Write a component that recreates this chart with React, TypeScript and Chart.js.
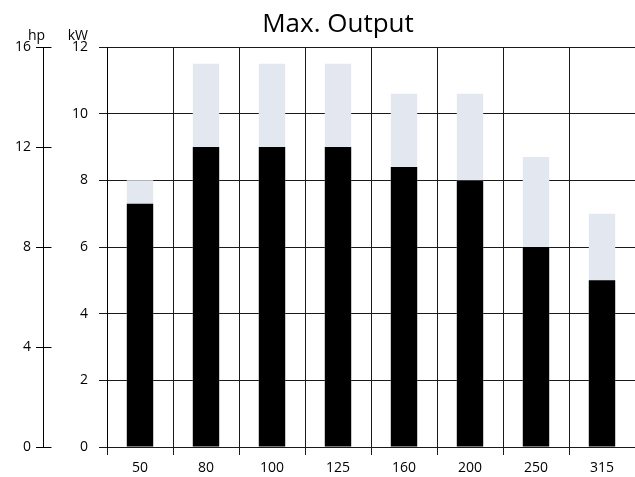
import React, { useEffect, useRef } from "react";
import { Chart, registerables } from "chart.js";

Chart.register(...registerables);

const categories = ["50", "80", "100", "125", "160", "200", "250", "315"];
const outputKw = [7.3, 9, 9, 9, 8.4, 8, 6, 5];
const maxKw = [8, 11.5, 11.5, 11.5, 10.6, 10.6, 8.7, 7];
const kwTicks = [0, 2, 4, 6, 8, 10, 12];
const hpTicks = [0, 4, 8, 12, 16];
const titleText = "Max. Output";
const hpLabel = "hp";
const kwLabel = "kW";

const FONT = "'Open Sans', 'DejaVu Sans', sans-serif";

const overlayPlugin = {
  id: "overlay",
  afterDraw(chart: any) {
    const ctx = chart.ctx;
    const hp = chart.scales.hp;
    const kw = chart.scales.y;
    const area = chart.chartArea;
    ctx.save();
    // right-side half of the hp tick marks
    ctx.strokeStyle = "#000";
    ctx.lineWidth = 1;
    hpTicks.forEach((v) => {
      const y = Math.round(hp.getPixelForValue(v)) + 0.5;
      const x = Math.round(hp.right) + 0.5;
      ctx.beginPath();
      ctx.moveTo(x - 1, y);
      ctx.lineTo(x + 8, y);
      ctx.stroke();
    });
    // axis unit labels
    ctx.fillStyle = "#000";
    ctx.font = `14px ${FONT}`;
    ctx.textBaseline = "alphabetic";
    ctx.textAlign = "left";
    ctx.fillText(hpLabel, hp.right - 15, area.top - 7);
    ctx.textAlign = "right";
    ctx.fillText(kwLabel, kw.right - 19, area.top - 7);
    // title
    ctx.font = `26px ${FONT}`;
    ctx.textAlign = "center";
    ctx.fillText(titleText, 338, 32);
    ctx.restore();
  },
};

export default function App() {
  const ref = useRef<HTMLCanvasElement | null>(null);
  useEffect(() => {
    document.body.style.margin = "0";
    const canvas = ref.current!;
    const chart = new Chart(canvas, {
      type: "bar",
      data: {
        labels: categories,
        datasets: [
          {
            label: "Output",
            data: outputKw,
            backgroundColor: "#000000",
            borderWidth: 0,
            order: 0,
            barPercentage: 0.4,
            categoryPercentage: 1,
            yAxisID: "y",
          },
          {
            label: "Max",
            data: maxKw,
            backgroundColor: "#e3e8f0",
            borderWidth: 0,
            order: 1,
            barPercentage: 0.4,
            categoryPercentage: 1,
            yAxisID: "y",
          },
        ],
      },
      options: {
        animation: false,
        responsive: false,
        layout: { padding: { top: 47, right: -2, left: 0, bottom: 0 } },
        plugins: {
          legend: { display: false },
          tooltip: { enabled: false },
          title: { display: false },
        },
        scales: {
          x: {
            stacked: true,
            offset: true,
            afterFit: (s: any) => {
              s.height = 30;
            },
            grid: {
              offset: true,
              color: "#1a1a1a",
              lineWidth: 1,
              tickLength: 8,
              drawOnChartArea: true,
            },
            border: { display: true, color: "#1a1a1a" },
            ticks: {
              color: "#000",
              font: { family: FONT, size: 14 },
              padding: 5,
              maxRotation: 0,
            },
          },
          y: {
            position: "left",
            weight: 0,
            stacked: false,
            min: 0,
            max: 12,
            afterBuildTicks: (s: any) => {
              s.ticks = kwTicks.map((v) => ({ value: v }));
            },
            afterFit: (s: any) => {
              s.width = 64;
            },
            grid: {
              color: "#1a1a1a",
              lineWidth: 1,
              tickLength: 8,
              drawOnChartArea: true,
            },
            border: { display: true, color: "#000" },
            ticks: {
              color: "#000",
              font: { family: FONT, size: 14 },
              padding: 11,
            },
          },
          hp: {
            type: "linear",
            position: "left",
            weight: 1,
            min: 0,
            max: 16,
            afterBuildTicks: (s: any) => {
              s.ticks = hpTicks.map((v) => ({ value: v }));
            },
            afterFit: (s: any) => {
              s.width = 43;
            },
            grid: {
              color: "#000",
              lineWidth: 1,
              tickLength: 7,
              drawOnChartArea: false,
            },
            border: { display: true, color: "#000" },
            ticks: {
              color: "#000",
              font: { family: FONT, size: 14 },
              padding: 5,
            },
          },
        },
      },
      plugins: [overlayPlugin],
    } as any);
    return () => chart.destroy();
  }, []);
  return (
    <div style={{ width: 635, height: 477, overflow: "hidden" }}>
      <canvas ref={ref} width={635} height={477} style={{ display: "block" }} />
    </div>
  );
}
